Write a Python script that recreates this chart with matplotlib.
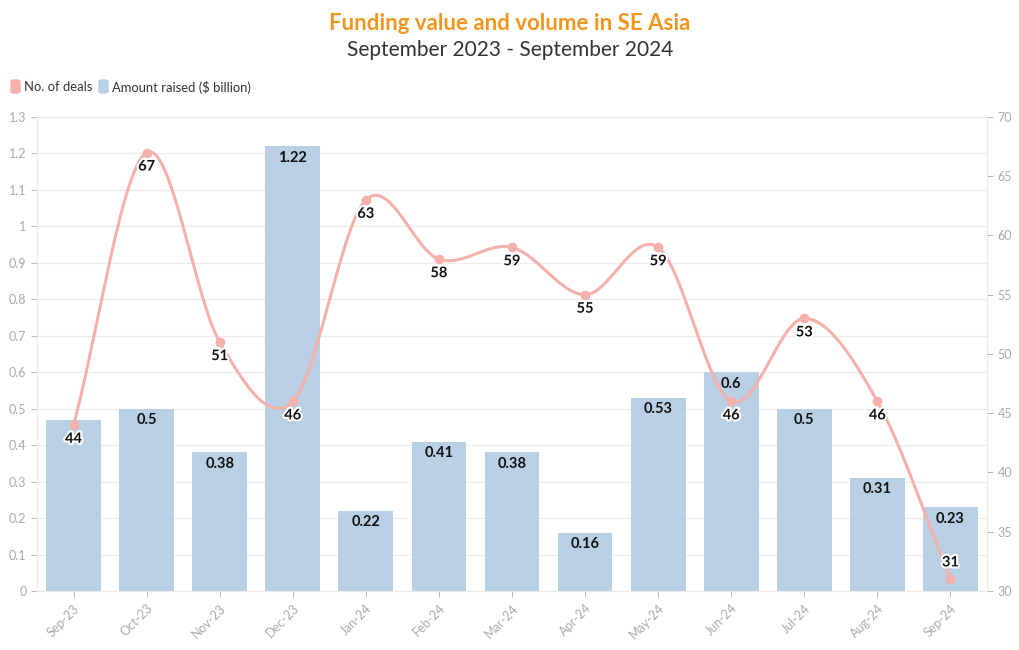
import numpy as np
import matplotlib
matplotlib.use("Agg")
import matplotlib.pyplot as plt
import matplotlib.patheffects as pe
from matplotlib.patches import FancyBboxPatch

plt.rcParams['font.family'] = ['Lato', 'DejaVu Sans']

months = ["Sep-23", "Oct-23", "Nov-23", "Dec-23", "Jan-24", "Feb-24", "Mar-24",
          "Apr-24", "May-24", "Jun-24", "Jul-24", "Aug-24", "Sep-24"]
amount = [0.47, 0.5, 0.38, 1.22, 0.22, 0.41, 0.38, 0.16, 0.53, 0.6, 0.5, 0.31, 0.23]
amount_labels = ["", "0.5", "0.38", "1.22", "0.22", "0.41", "0.38", "0.16", "0.53", "0.6", "0.5", "0.31", "0.23"]
deals = [44, 67, 51, 46, 63, 58, 59, 55, 59, 46, 53, 46, 31]

bar_color = "#B8CFE4"
line_color = "#F4B0AA"
tick_color = "#AAAAAA"
grid_color = "#EBEBEB"

fig = plt.figure(figsize=(10.2, 6.5), dpi=100)
ax = fig.add_axes([37/1020, 1-591/650, (987-37)/1020, (591-117)/650])
ax2 = ax.twinx()

x = np.arange(len(months))
ax.bar(x, amount, width=0.75, color=bar_color, zorder=2)
for xi, v, lab in zip(x, amount, amount_labels):
    if lab:
        ax.text(xi, v - 0.012, lab, ha='center', va='top', fontsize=10.5,
                fontweight='bold', color='#111111', zorder=5)

ax.set_xlim(-0.5, len(months) - 0.5)
ax.set_ylim(0, 1.3)
ax.set_yticks(np.arange(0, 1.31, 0.1))
ax.set_yticklabels(["0", "0.1", "0.2", "0.3", "0.4", "0.5", "0.6", "0.7", "0.8", "0.9", "1", "1.1", "1.2", "1.3"])
ax.yaxis.grid(True, color=grid_color, linewidth=0.8, zorder=0)
ax.set_axisbelow(True)
ax.set_xticks(x)
ax.set_xticklabels(months, rotation=45, ha='right', rotation_mode='anchor')
ax.tick_params(axis='both', colors=tick_color, labelsize=9, length=4, width=0.6)
ax.tick_params(axis='x', pad=4)
for a in (ax, ax2):
    a.spines['top'].set_visible(False)
    a.spines['left'].set_color(grid_color)
    a.spines['right'].set_color(grid_color)
    a.spines['bottom'].set_color(grid_color)

# Catmull-Rom curve through the deal points
def catmull(xs, ys, n=30):
    px = np.concatenate([[2*xs[0]-xs[1]], xs, [2*xs[-1]-xs[-2]]])
    py = np.concatenate([[2*ys[0]-ys[1]], ys, [2*ys[-1]-ys[-2]]])
    ox, oy = [], []
    for i in range(1, len(px)-2):
        t = np.linspace(0, 1, n, endpoint=False)
        for arr, out in ((px, ox), (py, oy)):
            p0, p1, p2, p3 = arr[i-1], arr[i], arr[i+1], arr[i+2]
            out.extend(0.5*((2*p1) + (-p0+p2)*t + (2*p0-5*p1+4*p2-p3)*t**2 + (-p0+3*p1-3*p2+p3)*t**3))
    ox.append(xs[-1]); oy.append(ys[-1])
    return np.array(ox), np.array(oy)

cx, cy = catmull(x.astype(float), np.array(deals, dtype=float))
ax2.plot(cx, cy, color=line_color, linewidth=2.2, zorder=3)
ax2.scatter(x, deals, color=line_color, s=36, zorder=4)
ax2.set_ylim(30, 70)
ax2.set_yticks(range(30, 71, 5))
ax2.tick_params(axis='y', colors=tick_color, labelsize=9, length=4, width=0.6)
for xi, d in zip(x, deals):
    if d <= 32:
        ax2.annotate(str(d), (xi, d), xytext=(0, 7), textcoords='offset points',
                     ha='center', va='bottom', fontsize=10.5, fontweight='bold', color='#111111',
                     path_effects=[pe.withStroke(linewidth=3, foreground='white')], zorder=6)
    else:
        ax2.annotate(str(d), (xi, d), xytext=(0, -5), textcoords='offset points',
                     ha='center', va='top', fontsize=10.5, fontweight='bold', color='#111111',
                     path_effects=[pe.withStroke(linewidth=3, foreground='white')], zorder=6)

# Titles
fig.text(0.5, 1-24/650, "Funding value and volume in SE Asia", ha='center', va='center',
         fontsize=16, fontweight='bold', color='#F0961E')
fig.text(0.5, 1-50/650, "September 2023 - September 2024", ha='center', va='center',
         fontsize=15, color='#333333')

# Legend
def legend_item(xpix, color, label):
    fig.patches.append(FancyBboxPatch((xpix/1020, 1-93/650), 9/1020, 13/650,
                                      boxstyle="round,pad=0,rounding_size=0.003",
                                      transform=fig.transFigure, color=color))
    fig.text((xpix+13)/1020, 1-87/650, label, ha='left', va='center', fontsize=9.4, color='#333333')

legend_item(11, line_color, "No. of deals")
legend_item(99, bar_color, "Amount raised ($ billion)")

fig.savefig("out.png", dpi=100)
